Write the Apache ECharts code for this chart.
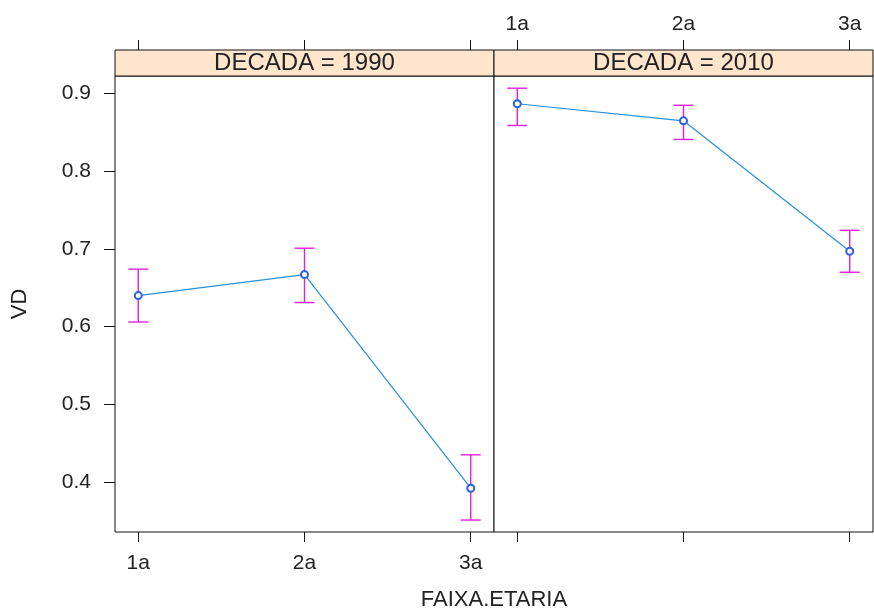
<!DOCTYPE html>
<html>
<head>
<meta charset="utf-8">
<script src="https://cdn.jsdelivr.net/npm/echarts@6/dist/echarts.min.js"></script>
<style>
html,body{margin:0;padding:0;background:#fff;}
#chart{width:874px;height:613px;}
</style>
</head>
<body>
<div id="chart"></div>
<script>
// ---- data ----
const categories = ['1a', '2a', '3a'];
const panels = ['DECADA = 1990', 'DECADA = 2010'];
const yTicks = [0.4, 0.5, 0.6, 0.7, 0.8, 0.9];
const vd1990 = [0.640, 0.667, 0.392];
const low1990 = [0.606, 0.631, 0.351];
const high1990 = [0.674, 0.701, 0.435];
const vd2010 = [0.887, 0.865, 0.697];
const low2010 = [0.859, 0.841, 0.670];
const high2010 = [0.907, 0.885, 0.724];

// ---- layout ----
const chart = echarts.init(document.getElementById('chart'), null, {renderer: 'canvas'});
const FONT = 'Liberation Sans, Arial, sans-serif';
const TXT = '#222';
const xVals = categories.map((c, i) => i + 1);
const xMin = 0.86, xMax = 3.14;
const yMin = 0.3356, yMax = 0.9227;
const fmtX = v => categories[Math.round(v) - 1] || '';

const panelL = [115, 494];
const panelW = 379;
const plotTop = 76, plotH = 456;
const stripTop = 50, stripH = 26;

const grids = [];
panelL.forEach(l => grids.push({left: l, top: plotTop, width: panelW, height: plotH, show: true, borderColor: '#111', borderWidth: 1, backgroundColor: '#fff'}));
panelL.forEach(l => grids.push({left: l, top: stripTop, width: panelW, height: stripH, show: true, borderColor: '#111', borderWidth: 1, backgroundColor: '#ffe5cc'}));

function xAxisDef(gridIndex, position, showLabels, margin) {
  return {
    type: 'value', gridIndex, position, min: xMin, max: xMax,
    splitLine: {show: false},
    axisLine: {show: false, onZero: false},
    axisTick: {show: true, inside: false, length: 10, customValues: xVals, lineStyle: {color: '#111', width: 1}},
    axisLabel: {show: showLabels, customValues: xVals, formatter: fmtX, margin, color: TXT, fontSize: 21, fontFamily: FONT}
  };
}
const xAxes = [
  xAxisDef(0, 'bottom', true, 21),
  xAxisDef(1, 'bottom', false, 21),
  xAxisDef(2, 'top', false, 15),
  xAxisDef(3, 'top', true, 15)
];
const yAxes = [
  {type: 'value', gridIndex: 0, min: yMin, max: yMax, position: 'left',
   name: 'VD', nameLocation: 'middle', nameGap: 84, nameRotate: 90,
   nameTextStyle: {color: TXT, fontSize: 22, fontFamily: FONT},
   splitLine: {show: false}, axisLine: {show: false, onZero: false},
   axisTick: {show: true, length: 11, customValues: yTicks, lineStyle: {color: '#111'}},
   axisLabel: {show: true, customValues: yTicks, formatter: v => v.toFixed(1), margin: 24, color: TXT, fontSize: 21, fontFamily: FONT}},
  {type: 'value', gridIndex: 1, min: yMin, max: yMax, show: false},
  {type: 'value', gridIndex: 2, min: 0, max: 1, show: false},
  {type: 'value', gridIndex: 3, min: 0, max: 1, show: false}
];

const LINE = '#2a8fd8';
const PT = '#2f5fe0';
const ERR = '#dd22dd';

function errSeries(idx, lows, highs) {
  return {
    type: 'custom', xAxisIndex: idx, yAxisIndex: idx, z: 3,
    data: xVals.map((x, i) => [x, lows[i], highs[i]]),
    renderItem: function (params, api) {
      const p1 = api.coord([api.value(0), api.value(1)]);
      const p2 = api.coord([api.value(0), api.value(2)]);
      const hw = 10;
      const st = {stroke: ERR, lineWidth: 1.4};
      return {type: 'group', children: [
        {type: 'line', shape: {x1: p1[0], y1: p1[1], x2: p2[0], y2: p2[1]}, style: st},
        {type: 'line', shape: {x1: p1[0] - hw, y1: p1[1], x2: p1[0] + hw, y2: p1[1]}, style: st},
        {type: 'line', shape: {x1: p2[0] - hw, y1: p2[1], x2: p2[0] + hw, y2: p2[1]}, style: st}
      ]};
    }
  };
}
function lineSeries(idx, vals) {
  return {
    type: 'line', xAxisIndex: idx, yAxisIndex: idx, z: 4,
    data: xVals.map((x, i) => [x, vals[i]]),
    symbol: 'emptyCircle', symbolSize: 7,
    lineStyle: {color: LINE, width: 1.2},
    itemStyle: {color: PT, borderColor: PT, borderWidth: 1.1},
    animation: false
  };
}

const option = {
  animation: false,
  backgroundColor: '#fff',
  grid: grids,
  xAxis: xAxes,
  yAxis: yAxes,
  title: [
    {text: panels[0], left: panelL[0] + panelW / 2, top: stripTop + 1, textAlign: 'center', padding: 0,
     textStyle: {color: TXT, fontSize: 24, fontWeight: 'normal', fontFamily: FONT}},
    {text: panels[1], left: panelL[1] + panelW / 2, top: stripTop + 1, textAlign: 'center', padding: 0,
     textStyle: {color: TXT, fontSize: 24, fontWeight: 'normal', fontFamily: FONT}},
    {text: 'FAIXA.ETARIA', left: 494, top: 589, textAlign: 'center', padding: 0,
     textStyle: {color: TXT, fontSize: 22, fontWeight: 'normal', fontFamily: FONT}}
  ],
  series: [
    errSeries(0, low1990, high1990),
    lineSeries(0, vd1990),
    errSeries(1, low2010, high2010),
    lineSeries(1, vd2010)
  ]
};
chart.setOption(option);
</script>
</body>
</html>
